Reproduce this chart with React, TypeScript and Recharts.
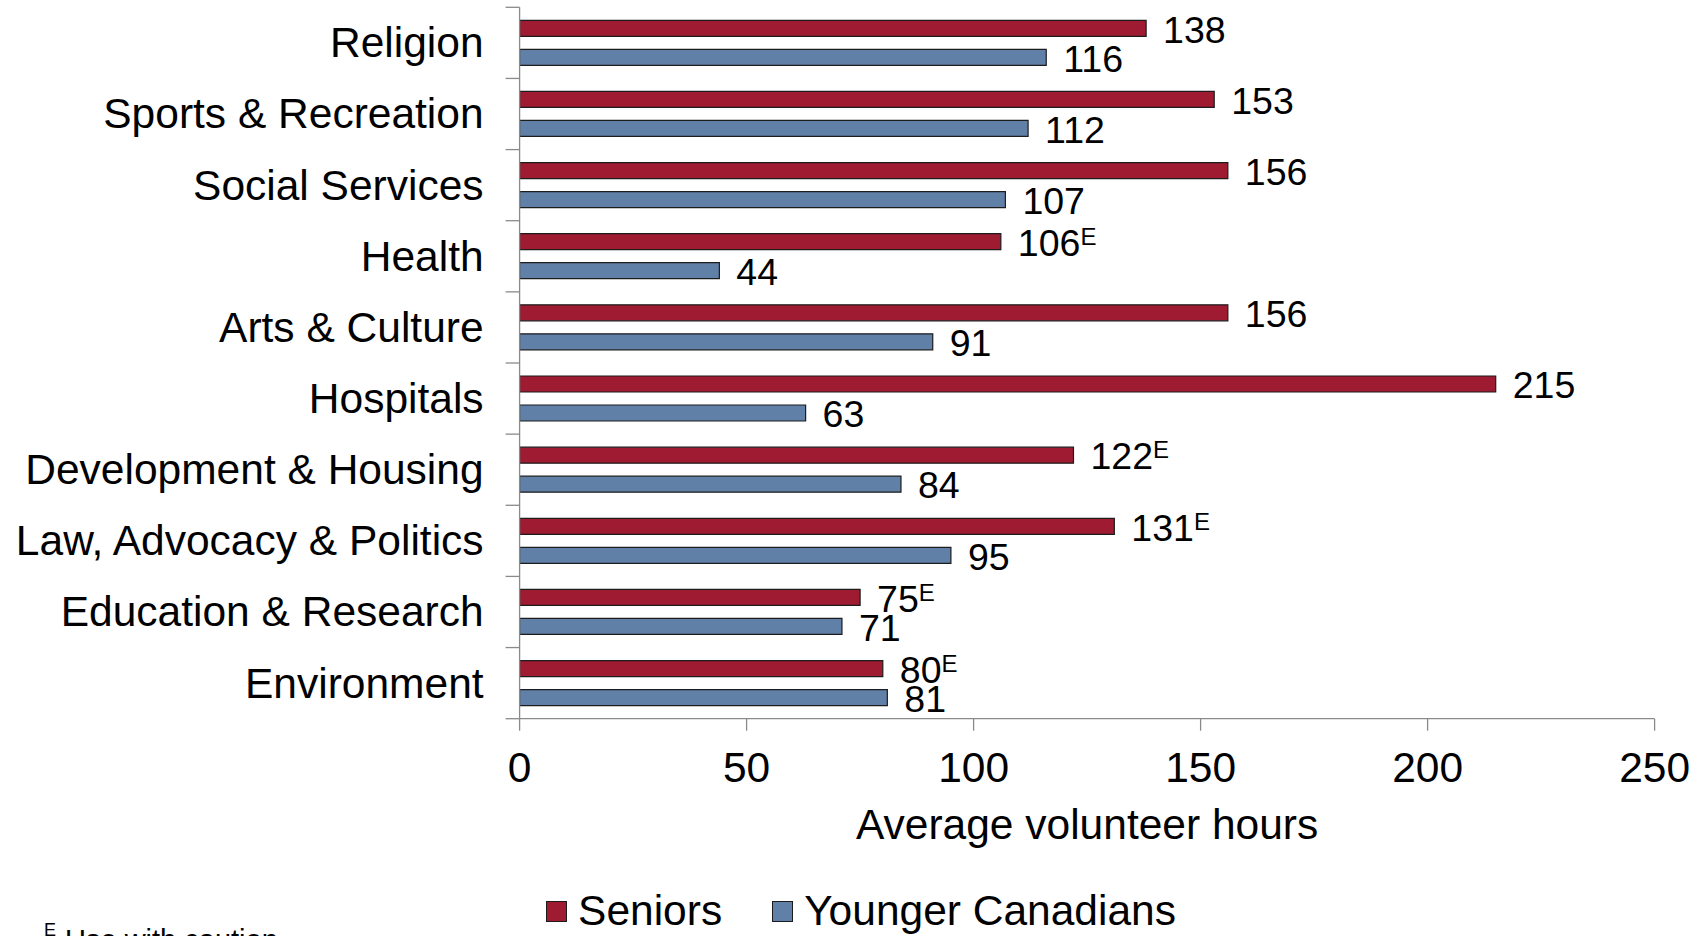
import { BarChart, Bar, XAxis, YAxis, Legend, LabelList, Label } from "recharts";

const categories = [
  "Religion",
  "Sports & Recreation",
  "Social Services",
  "Health",
  "Arts & Culture",
  "Hospitals",
  "Development & Housing",
  "Law, Advocacy & Politics",
  "Education & Research",
  "Environment",
];
const seniors = [138, 153, 156, 106, 156, 215, 122, 131, 75, 80];
const younger = [116, 112, 107, 44, 91, 63, 84, 95, 71, 81];
// "E" = use with caution
const seniorsCaution = [false, false, false, true, false, false, true, true, true, true];
const youngerCaution = [false, false, false, false, false, false, false, false, false, false];
const xTicks = [0, 50, 100, 150, 200, 250];
const seriesNames = ["Seniors", "Younger Canadians"];
const seriesColors = ["#9e1b32", "#6080a8"];

const W = 1708;
const H = 936;
const TOP = 7.3;
const AXIS_Y = 718.7;
const LEFT_W = 519.6;
const RIGHT = 53.4;
const LEGEND_H = 50;
const BAND = (AXIS_Y - TOP) / categories.length;
const FONT = "'Liberation Sans', Arial, sans-serif";
const GRAY = "#8a8a8a";

const data = categories.map((name, i) => ({
  name,
  seniors: seniors[i],
  younger: younger[i],
}));

function CategoryTick(props: any) {
  const { x, y, payload, index } = props;
  return (
    <g>
      <text
        x={x - 36}
        y={y}
        dy="0.34em"
        textAnchor="end"
        fontSize={42.5}
        fontFamily={FONT}
        fill="#000"
      >
        {payload.value}
      </text>
      <line x1={x - 14} x2={x} y1={y - BAND / 2} y2={y - BAND / 2} stroke={GRAY} strokeWidth={1.3} />
      {index === categories.length - 1 && (
        <line x1={x - 14} x2={x} y1={y + BAND / 2} y2={y + BAND / 2} stroke={GRAY} strokeWidth={1.3} />
      )}
    </g>
  );
}

function makeValueLabel(flags: boolean[]) {
  return (props: any) => {
    const { x, y, width, height, value, index } = props;
    return (
      <text
        x={x + width + 17}
        y={y + height / 2 + 1}
        dy="0.355em"
        fontSize={37.5}
        fontFamily={FONT}
        fill="#000"
      >
        {value}
        {flags[index] && (
          <tspan fontSize={24} dy={-11}>
            E
          </tspan>
        )}
      </text>
    );
  };
}

function LegendContent() {
  return (
    <div
      style={{
        height: LEGEND_H,
        width: W,
        display: "flex",
        justifyContent: "center",
        alignItems: "center",
        paddingLeft: 14,
        boxSizing: "border-box",
        fontFamily: FONT,
        fontSize: 42.5,
        color: "#000",
      }}
    >
      {seriesNames.map((n, i) => (
        <div key={n} style={{ display: "flex", alignItems: "center", marginRight: i === 0 ? 50 : 0 }}>
          <div
            style={{
              width: 19,
              height: 19,
              background: seriesColors[i],
              border: "1px solid #1c1c1c",
              marginRight: 11,
            }}
          />
          <span style={{ lineHeight: 1 }}>{n}</span>
        </div>
      ))}
    </div>
  );
}

export default function App() {
  return (
    <div style={{ position: "relative", width: W, height: H, overflow: "hidden", background: "#fff" }}>
      <style>{`body{margin:0}`}</style>
      <BarChart
        width={W}
        height={H}
        data={data}
        layout="vertical"
        margin={{ top: TOP, right: RIGHT, left: 0, bottom: 0 }}
        barSize={16}
        barGap={13}
      >
        <XAxis
          type="number"
          domain={[0, 250]}
          ticks={xTicks}
          height={H - LEGEND_H - AXIS_Y}
          axisLine={{ stroke: GRAY, strokeWidth: 1.3 }}
          tickLine={{ stroke: GRAY, strokeWidth: 1.3 }}
          tickSize={12}
          tickMargin={21}
          tick={{ fontSize: 42.5, fontFamily: FONT, fill: "#000" }}
        >
          <Label
            value="Average volunteer hours"
            position="insideBottom"
            offset={47}
            fontSize={42.5}
            fontFamily={FONT}
            fill="#000"
          />
        </XAxis>
        <YAxis
          type="category"
          dataKey="name"
          width={LEFT_W}
          axisLine={{ stroke: GRAY, strokeWidth: 1.3 }}
          tickLine={false}
          tickSize={0}
          tickMargin={0}
          interval={0}
          tick={<CategoryTick />}
        />
        <Legend verticalAlign="bottom" height={LEGEND_H} content={<LegendContent />} />
        <Bar
          dataKey="seniors"
          name={seriesNames[0]}
          fill={seriesColors[0]}
          stroke="#1c1c1c"
          strokeWidth={1.2}
          isAnimationActive={false}
        >
          <LabelList dataKey="seniors" content={makeValueLabel(seniorsCaution)} />
        </Bar>
        <Bar
          dataKey="younger"
          name={seriesNames[1]}
          fill={seriesColors[1]}
          stroke="#1c1c1c"
          strokeWidth={1.2}
          isAnimationActive={false}
        >
          <LabelList dataKey="younger" content={makeValueLabel(youngerCaution)} />
        </Bar>
      </BarChart>
      <svg
        width={W}
        height={H}
        style={{ position: "absolute", left: 0, top: 0, pointerEvents: "none" }}
      >
        <text x={44} y={936} fontSize={18} fontFamily={FONT} fill="#000">
          E
        </text>
        <text x={65} y={950} fontSize={29} fontFamily={FONT} fill="#000">
          Use with caution
        </text>
      </svg>
    </div>
  );
}
